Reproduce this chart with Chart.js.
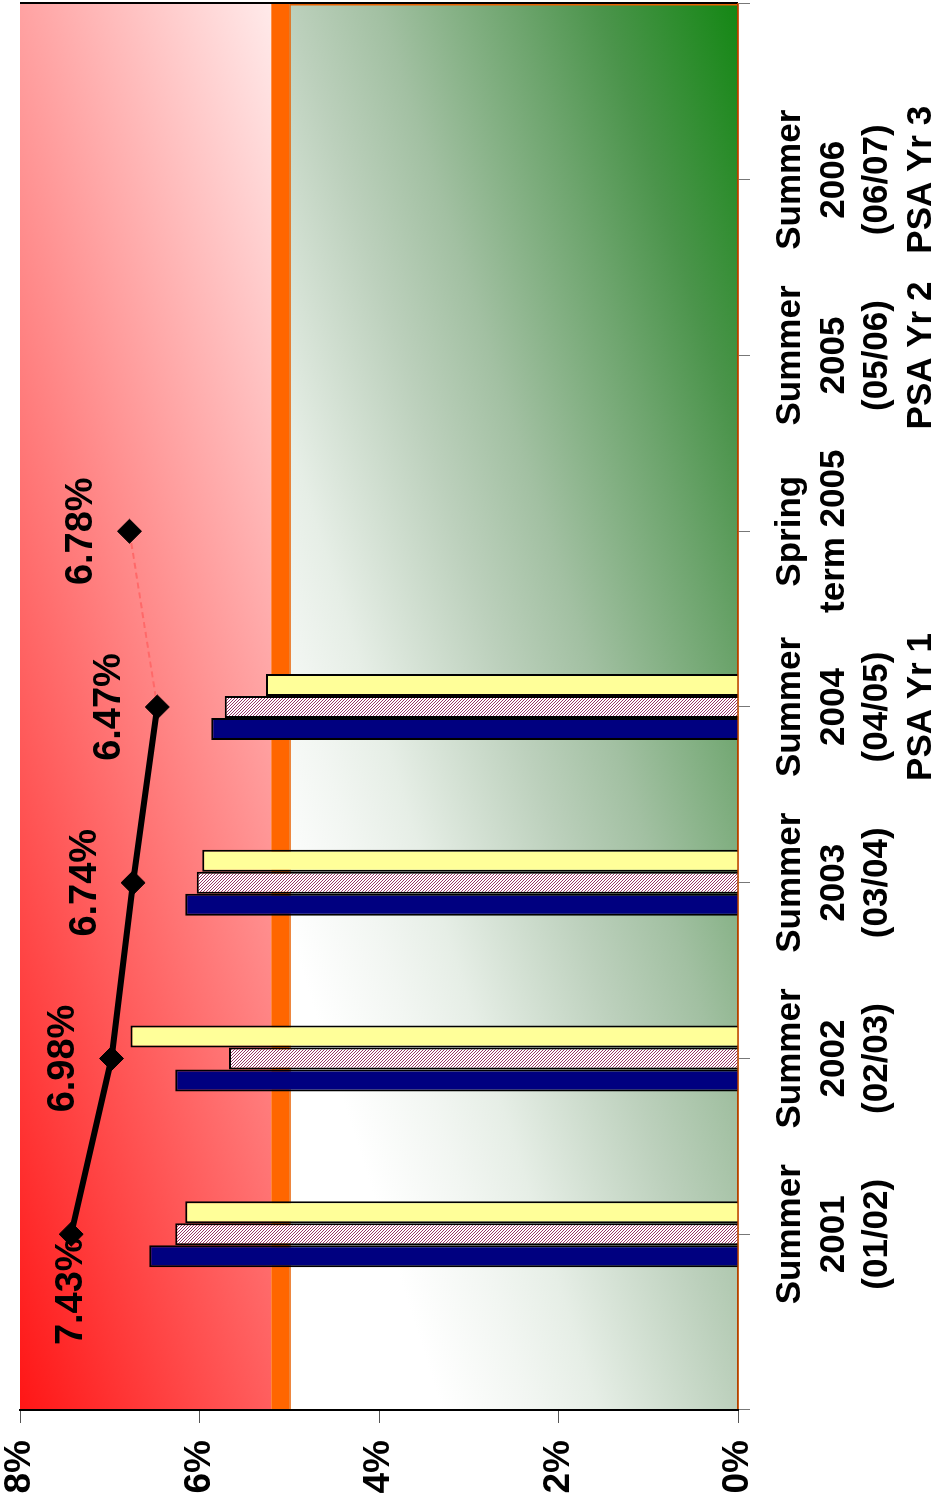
<!DOCTYPE html>
<html>
<head>
<meta charset="utf-8">
<script src="https://cdn.jsdelivr.net/npm/chart.js@4.4.1/dist/chart.umd.min.js"></script>
<style>
  html, body { margin: 0; padding: 0; background: #fff; width: 935px; height: 1503px; overflow: hidden; }
  #wrap { position: absolute; left: 0; top: 0; width: 1503px; height: 935px;
          transform-origin: 0 0; transform: translate(0, 1503px) rotate(-90deg); }
</style>
</head>
<body>
<div id="wrap"><canvas id="c" width="1503" height="935"></canvas></div>
<script>
// ---- data ----
const categories = [
  '',
  ['Summer', '2001', '(01/02)'],
  ['Summer', '2002', '(02/03)'],
  ['Summer', '2003', '(03/04)'],
  ['Summer', '2004', '(04/05)', 'PSA Yr 1'],
  ['Spring', 'term 2005'],
  ['Summer', '2005', '(05/06)', 'PSA Yr 2'],
  ['Summer', '2006', '(06/07)', 'PSA Yr 3'],
  ''
];
const navyValues   = [null, 6.56, 6.27, 6.16, 5.87, null, null, null, null];
const pinkValues   = [null, 6.27, 5.67, 6.03, 5.72, null, null, null, null];
const yellowValues = [null, 6.16, 6.77, 5.97, 5.26, null, null, null, null];
const lineValues   = [null, 7.43, 6.98, 6.74, 6.47, 6.78, null, null, null];
const valueTicks   = [0, 2, 4, 6, 8];
const bandLimits   = [0, 5, 5.2, 8];

const FONT = "'Liberation Sans', Arial, sans-serif";

function hatchPattern() {
  const c = document.createElement('canvas');
  c.width = 3; c.height = 3;
  const x = c.getContext('2d');
  x.fillStyle = '#ffffff'; x.fillRect(0, 0, 3, 3);
  x.fillStyle = '#993366';
  for (let i = 0; i < 3; i++) x.fillRect(i, i, 1, 1);
  return x.createPattern(c, 'repeat');
}

function diagGradient(ctx, x0, y0, w, h, cu, cv) {
  const S = cu + cv;
  const gx = cu / (S * w), gy = cv / (S * h);
  const n = gx * gx + gy * gy;
  return ctx.createLinearGradient(x0, y0, x0 + gx / n, y0 + gy / n);
}

const bandsPlugin = {
  id: 'bands',
  beforeDraw(chart) {
    const { ctx, chartArea: a, scales: { y } } = chart;
    const w = a.right - a.left;
    const p0 = y.getPixelForValue(bandLimits[0]);
    const p1 = y.getPixelForValue(bandLimits[1]);
    const p2 = y.getPixelForValue(bandLimits[2]);
    const p3 = y.getPixelForValue(bandLimits[3]);
    ctx.save();
    // red band
    let g = diagGradient(ctx, a.left, p3, w, p2 - p3, 147, 75);
    g.addColorStop(0, 'rgb(255,22,22)');
    g.addColorStop(1, 'rgb(255,234,234)');
    ctx.fillStyle = g;
    ctx.fillRect(a.left, p3, w, p2 - p3);
    // orange band
    ctx.fillStyle = '#FF6600';
    ctx.fillRect(a.left, p2, w, p1 - p2);
    // green band
    g = diagGradient(ctx, a.left, p1, w, p0 - p1, 1, 1);
    g.addColorStop(0, 'rgb(255,255,255)');
    g.addColorStop(0.17, 'rgb(255,255,255)');
    g.addColorStop(0.27, 'rgb(242,246,242)');
    g.addColorStop(0.345, 'rgb(230,238,230)');
    g.addColorStop(0.5, 'rgb(188,208,188)');
    g.addColorStop(0.6, 'rgb(162,192,162)');
    g.addColorStop(0.75, 'rgb(110,165,110)');
    g.addColorStop(0.845, 'rgb(75,148,75)');
    g.addColorStop(1, 'rgb(20,135,20)');
    ctx.fillStyle = g;
    ctx.fillRect(a.left, p1, w, p0 - p1);
    ctx.strokeStyle = '#E86000';
    ctx.lineWidth = 1.5;
    ctx.strokeRect(a.left, p1 + 0.75, w - 0.75, p0 - p1 - 0.75);
    // right plot border (black)
    ctx.strokeStyle = '#000';
    ctx.lineWidth = 2;
    ctx.beginPath();
    ctx.moveTo(a.right + 1, p3);
    ctx.lineTo(a.right + 1, p0);
    ctx.stroke();
    ctx.restore();
  }
};

const labelsPlugin = {
  id: 'pointLabels',
  afterDatasetsDraw(chart) {
    const { ctx } = chart;
    const meta = chart.getDatasetMeta(3);
    ctx.save();
    ctx.font = 'bold 38px ' + FONT;
    ctx.fillStyle = '#000';
    ctx.textAlign = 'center';
    ctx.textBaseline = 'middle';
    meta.data.forEach((pt, i) => {
      const v = lineValues[i];
      if (v === null || v === undefined) return;
      let dx = 0, dy = -48;
      if (i === 1) { dx = -57; dy = 0; }
      ctx.fillText(v.toFixed(2) + '%', pt.x + dx, pt.y + dy);
    });
    ctx.restore();
  }
};

const ctx = document.getElementById('c').getContext('2d');
new Chart(ctx, {
  data: {
    labels: categories,
    datasets: [
      { type: 'bar', data: navyValues, backgroundColor: '#000080', borderColor: '#000', borderWidth: 2,
        categoryPercentage: 0.3755, barPercentage: 1, order: 2 },
      { type: 'bar', data: pinkValues, backgroundColor: hatchPattern(), borderColor: '#000', borderWidth: 2,
        categoryPercentage: 0.3755, barPercentage: 1, order: 2 },
      { type: 'bar', data: yellowValues, backgroundColor: '#FFFF99', borderColor: '#000', borderWidth: 2,
        categoryPercentage: 0.3755, barPercentage: 1, order: 2 },
      { type: 'line', data: lineValues, borderColor: '#000', borderWidth: 6,
        pointStyle: 'rectRot', pointRadius: 12, pointBackgroundColor: '#000', pointBorderColor: '#000',
        pointBorderWidth: 1, spanGaps: false, order: 0,
        segment: {
          borderColor: c => c.p0DataIndex >= 4 ? 'rgb(255,105,105)' : '#000',
          borderWidth: c => c.p0DataIndex >= 4 ? 2 : 6,
          borderDash: c => c.p0DataIndex >= 4 ? [6, 4] : []
        } }
    ]
  },
  options: {
    responsive: false,
    animation: false,
    layout: { autoPadding: false, padding: { top: 20, right: 4, left: 0, bottom: 0 } },
    plugins: { legend: { display: false }, tooltip: { enabled: false } },
    scales: {
      x: {
        type: 'category',
        offset: false,
        grid: { offset: false, drawOnChartArea: false, drawTicks: true, tickLength: 12, color: '#777' },
        border: { display: true, color: '#B04000', width: 1.5 },
        ticks: { autoSkip: false, maxRotation: 0, minRotation: 0, padding: 19, color: '#000',
                 font: { family: FONT, size: 35, weight: 'bold', lineHeight: 1.243 } },
        afterFit: s => { s.height = 197; s.paddingLeft = 0; s.paddingRight = 0; }
      },
      y: {
        min: valueTicks[0], max: valueTicks[valueTicks.length - 1],
        afterBuildTicks: s => { s.ticks = valueTicks.map(v => ({ value: v })); },
        grid: { drawOnChartArea: false, drawTicks: true, tickLength: 13, color: '#555' },
        border: { display: true, color: '#000', width: 2 },
        ticks: { padding: 17, color: '#000', callback: v => v + '%',
                 font: { family: FONT, size: 37, weight: 'bold' } },
        afterFit: s => { s.width = 93; s.paddingTop = 0; s.paddingBottom = 0; }
      }
    }
  },
  plugins: [bandsPlugin, labelsPlugin]
});
</script>
</body>
</html>
